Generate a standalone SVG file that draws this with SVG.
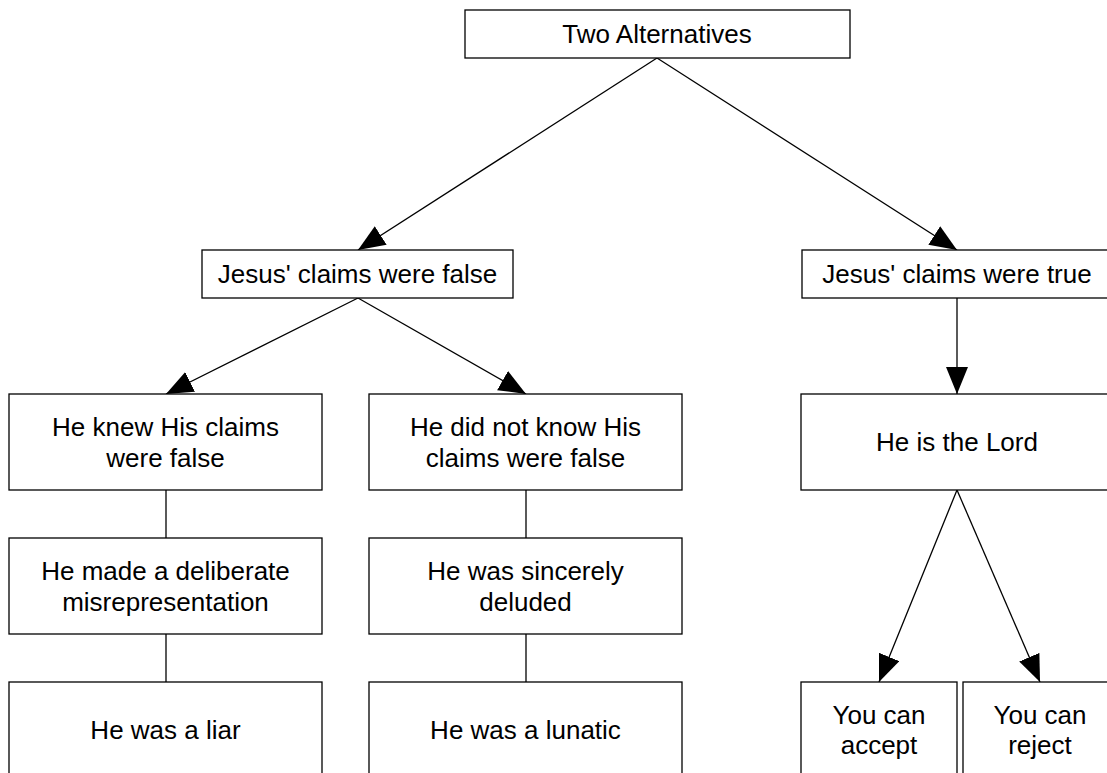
<svg xmlns="http://www.w3.org/2000/svg" width="1107" height="773" viewBox="0 0 1107 773">
<style>
.box{fill:#fff;stroke:#000;stroke-width:1.3}
.t{font-family:"Liberation Sans",Arial,sans-serif;font-size:26px;fill:#000;text-anchor:middle}
.c{stroke:#000;stroke-width:1.3;fill:none}
</style>
<defs>
<marker id="ah" markerUnits="userSpaceOnUse" markerWidth="28" markerHeight="24" refX="27" refY="11" orient="auto">
<path d="M0,0 L27,11 L0,22 z" fill="#000"/>
</marker>
</defs>
<rect width="1107" height="773" fill="#fff"/>
<g id="connectors">
<line class="c" x1="657" y1="58" x2="358" y2="250" marker-end="url(#ah)"/>
<line class="c" x1="657" y1="58" x2="957" y2="250" marker-end="url(#ah)"/>
<line class="c" x1="358" y1="298" x2="166" y2="394" marker-end="url(#ah)"/>
<line class="c" x1="358" y1="298" x2="526" y2="394" marker-end="url(#ah)"/>
<line class="c" x1="957" y1="298" x2="957" y2="394" marker-end="url(#ah)"/>
<line class="c" x1="957" y1="490" x2="879" y2="682" marker-end="url(#ah)"/>
<line class="c" x1="957" y1="490" x2="1040" y2="682" marker-end="url(#ah)"/>
<line class="c" x1="166" y1="490" x2="166" y2="538"/>
<line class="c" x1="166" y1="634" x2="166" y2="682"/>
<line class="c" x1="526" y1="490" x2="526" y2="538"/>
<line class="c" x1="526" y1="634" x2="526" y2="682"/>
</g>
<g id="n-two">
<rect class="box" x="465" y="10" width="385" height="48"/>
<text class="t" x="657" y="43">Two Alternatives</text>
</g>
<g id="n-false">
<rect class="box" x="202" y="250" width="311" height="48"/>
<text class="t" x="357.5" y="283">Jesus' claims were false</text>
</g>
<g id="n-true">
<rect class="box" x="802" y="250" width="311" height="48"/>
<text class="t" x="957" y="283">Jesus' claims were true</text>
</g>
<g id="n-knew">
<rect class="box" x="9" y="394" width="313" height="96"/>
<text class="t" x="165.5" y="435.5">He knew His claims</text>
<text class="t" x="165.5" y="466.5">were false</text>
</g>
<g id="n-didnot">
<rect class="box" x="369" y="394" width="313" height="96"/>
<text class="t" x="525.5" y="435.5">He did not know His</text>
<text class="t" x="525.5" y="466.5">claims were false</text>
</g>
<g id="n-lord">
<rect class="box" x="801" y="394" width="313" height="96"/>
<text class="t" x="957" y="451">He is the Lord</text>
</g>
<g id="n-made">
<rect class="box" x="9" y="538" width="313" height="96"/>
<text class="t" x="165.5" y="579.5">He made a deliberate</text>
<text class="t" x="165.5" y="610.5">misrepresentation</text>
</g>
<g id="n-sincere">
<rect class="box" x="369" y="538" width="313" height="96"/>
<text class="t" x="525.5" y="579.5">He was sincerely</text>
<text class="t" x="525.5" y="610.5">deluded</text>
</g>
<g id="n-liar">
<rect class="box" x="9" y="682" width="313" height="96"/>
<text class="t" x="165.5" y="739">He was a liar</text>
</g>
<g id="n-lunatic">
<rect class="box" x="369" y="682" width="313" height="96"/>
<text class="t" x="525.5" y="739">He was a lunatic</text>
</g>
<g id="n-accept">
<rect class="box" x="801" y="682" width="156" height="96"/>
<text class="t" x="879" y="723.5">You can</text>
<text class="t" x="879" y="754">accept</text>
</g>
<g id="n-reject">
<rect class="box" x="963" y="682" width="156" height="96"/>
<text class="t" x="1040" y="723.5">You can</text>
<text class="t" x="1040" y="754">reject</text>
</g>
</svg>
